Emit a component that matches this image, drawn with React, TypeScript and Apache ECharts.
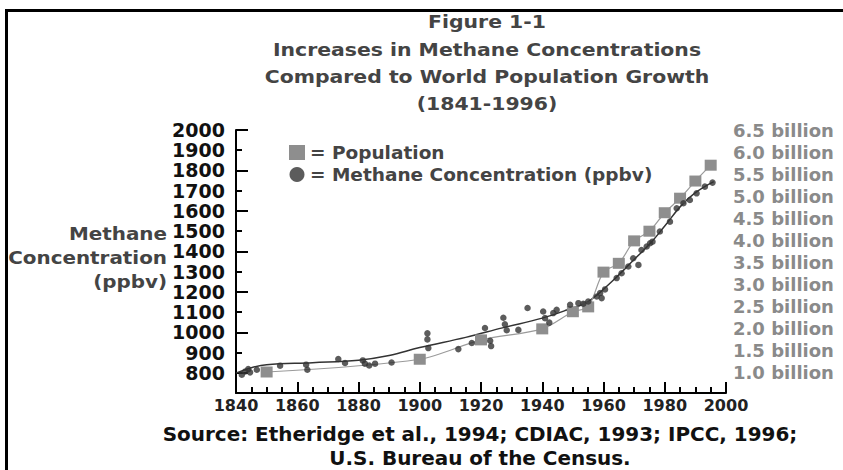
import React, { useEffect, useRef } from "react";
import * as echarts from "echarts";

const FONT = "'DejaVu Sans', sans-serif";

const titleLines = [
  "Figure 1-1",
  "Increases in Methane Concentrations",
  "Compared to World Population Growth",
  "(1841-1996)",
];
const sourceLines = [
  "Source: Etheridge et al., 1994; CDIAC, 1993; IPCC, 1996;",
  "U.S. Bureau of the Census.",
];
const yNameLines = ["Methane", "Concentration", "(ppbv)"];

const popName = "Population";
const methName = "Methane Concentration (ppbv)";

// Population (billions) – read from the gray squares
const popYears = [1850, 1900, 1920, 1940, 1950, 1955, 1960, 1965, 1970, 1975, 1980, 1985, 1990, 1995];
const popValues = [1.0, 1.29, 1.73, 1.98, 2.37, 2.48, 3.27, 3.47, 3.98, 4.2, 4.62, 4.95, 5.34, 5.7];

// Methane concentration measurements (year, ppbv)
const methYears = [
  1841.9, 1843, 1844, 1844.6, 1846.8, 1854.4, 1862.9, 1863.3, 1873.4, 1875.6,
  1881.4, 1882.1, 1883.5, 1885.4, 1890.8, 1902.5, 1902.5, 1902.8, 1912.6, 1917,
  1921.3, 1923, 1923.3, 1927.3, 1927.8, 1928.4, 1932.2, 1935.2, 1940.3, 1940.9,
  1942.3, 1943.6, 1944.7, 1949.1, 1951.8, 1953.4, 1955, 1957.8, 1958.9, 1959.4,
  1960.5, 1964.3, 1965.9, 1968.1, 1969.7, 1971.4, 1972.4, 1974.1, 1975.2, 1976,
  1978.4, 1981.7, 1983.9, 1986.1, 1988.2, 1990.4, 1993.1, 1995.6,
];
const methValues = [
  790, 806, 818, 802, 815, 835, 840, 815, 868, 848,
  861, 845, 836, 845, 851, 995, 965, 922, 917, 947,
  1021, 958, 932, 1072, 1040, 1010, 1012, 1120, 1103, 1070,
  1048, 1095, 1111, 1136, 1144, 1141, 1152, 1177, 1194, 1169,
  1212, 1268, 1292, 1325, 1366, 1333, 1407, 1424, 1440, 1448,
  1498, 1547, 1613, 1638, 1654, 1687, 1720, 1740,
];

// Fitted methane trend line
const trendYears = [1840, 1845, 1850, 1865, 1880, 1890, 1900, 1915, 1927, 1940, 1948, 1955, 1963, 1970, 1975, 1980, 1985, 1990, 1996];
const trendValues = [798, 825, 840, 850, 862, 885, 925, 975, 1022, 1070, 1110, 1152, 1255, 1360, 1435, 1525, 1620, 1690, 1745];

const xTickLabels = [1840, 1860, 1880, 1900, 1920, 1940, 1960, 1980, 2000];
const yLabelValues = [800, 900, 1000, 1100, 1200, 1300, 1400, 1500, 1600, 1700, 1800, 1900, 2000];
const yLongTicks = [800, 1000, 1200, 1400, 1600, 1800, 2000];
const yShortTicks = [900, 1100, 1300, 1500, 1700, 1900];

export default function App() {
  const ref = useRef<HTMLDivElement>(null);
  useEffect(() => {
    document.body.style.margin = "0";
    if (!ref.current) return;
    const chart = echarts.init(ref.current, undefined, { renderer: "svg" });

    const titleY = [22, 50, 77, 104];
    const graphics: any[] = [
      { type: "rect", shape: { x: 5, y: 9, width: 838, height: 3 }, style: { fill: "#000" } },
      { type: "rect", shape: { x: 5, y: 9, width: 3, height: 461 }, style: { fill: "#000" } },
    ];
    titleLines.forEach((t, i) => {
      graphics.push({
        type: "text",
        x: 487,
        y: titleY[i],
        scaleX: 1.2,
        style: {
          text: t,
          fontFamily: FONT,
          fontSize: 17,
          fontWeight: "bold",
          fill: "#444",
          align: "center",
          verticalAlign: "middle",
        },
      });
    });
    const nameY = [234, 258, 282];
    yNameLines.forEach((t, i) => {
      graphics.push({
        type: "text",
        x: 167,
        y: nameY[i],
        scaleX: 1.17,
        style: {
          text: t,
          fontFamily: FONT,
          fontSize: 17,
          fontWeight: "bold",
          fill: "#444",
          align: "right",
          verticalAlign: "middle",
        },
      });
    });
    const srcY = [435, 459];
    sourceLines.forEach((t, i) => {
      graphics.push({
        type: "text",
        x: 480,
        y: srcY[i],
        scaleX: 1.05,
        style: {
          text: t,
          fontFamily: FONT,
          fontSize: 19,
          fontWeight: "bold",
          fill: "#111",
          align: "center",
          verticalAlign: "middle",
        },
      });
    });

    const option: any = {
      animation: false,
      backgroundColor: "#fff",
      textStyle: { fontFamily: FONT },
      legend: {
        orient: "vertical",
        left: 289,
        top: 143,
        padding: 0,
        itemWidth: 16,
        itemHeight: 15,
        itemGap: 3,
        formatter: (n: string) => "= " + n,
        textStyle: { fontFamily: FONT, fontSize: 18.5, fontWeight: "bold", color: "#444" },
        data: [
          { name: popName, icon: "rect" },
          { name: methName, icon: "circle" },
        ],
      },
      grid: [
        { left: 236, top: 130, width: 490, height: 263 },
        { left: 236, top: 130, width: 490, height: 242 },
      ],
      xAxis: [
        {
          gridIndex: 0,
          type: "value",
          min: 1840,
          max: 2000,
          interval: 20,
          axisLine: { show: true, lineStyle: { color: "#000", width: 2 } },
          axisTick: { show: true, inside: true, length: 11, lineStyle: { color: "#000", width: 2 } },
          minorTick: { show: true, splitNumber: 4, length: 6, lineStyle: { color: "#000", width: 2 } },
          axisLabel: {
            margin: 4,
            fontFamily: FONT,
            fontSize: 16,
            fontWeight: "bold",
            color: "#222",
            customValues: xTickLabels,
            formatter: (v: number) => String(v),
          },
          splitLine: { show: false },
          minorSplitLine: { show: false },
        },
        { gridIndex: 1, type: "value", min: 1840, max: 2000, show: false },
      ],
      yAxis: [
        {
          gridIndex: 0,
          type: "value",
          min: 700,
          max: 2000,
          interval: 100,
          axisLine: { show: true, lineStyle: { color: "#000", width: 2 } },
          axisTick: { show: true, inside: true, length: 6, customValues: yShortTicks, lineStyle: { color: "#000", width: 2 } },
          axisLabel: {
            margin: 11,
            fontFamily: FONT,
            fontSize: 19,
            fontWeight: "bold",
            color: "#111",
            customValues: yLabelValues,
            formatter: (v: number) => String(v),
          },
          splitLine: { show: false },
        },
        {
          gridIndex: 0,
          type: "value",
          position: "left",
          min: 700,
          max: 2000,
          interval: 100,
          axisLine: { show: false },
          axisTick: { show: true, inside: true, length: 12, customValues: yLongTicks, lineStyle: { color: "#000", width: 2 } },
          axisLabel: { show: false },
          splitLine: { show: false },
        },
        {
          gridIndex: 1,
          type: "value",
          position: "right",
          min: 1.0,
          max: 6.5,
          interval: 0.5,
          axisLine: { show: false },
          axisTick: { show: false },
          axisLabel: {
            margin: 7,
            fontFamily: FONT,
            fontSize: 18,
            fontWeight: "bold",
            color: "#8a8a8a",
            formatter: (v: number) => v.toFixed(1) + " billion",
          },
          splitLine: { show: false },
        },
      ],
      series: [
        {
          name: popName,
          type: "line",
          xAxisIndex: 1,
          yAxisIndex: 2,
          data: popYears.map((y, i) => [y, popValues[i]]),
          smooth: 0.3,
          symbol: "rect",
          symbolSize: [12, 11],
          itemStyle: { color: "#8e8e8e" },
          lineStyle: { color: "#9a9a9a", width: 1.2 },
          clip: false,
          z: 3,
        },
        {
          name: "trend",
          type: "line",
          xAxisIndex: 0,
          yAxisIndex: 0,
          data: trendYears.map((y, i) => [y, trendValues[i]]),
          smooth: 0.4,
          showSymbol: false,
          lineStyle: { color: "#333", width: 1.5 },
          itemStyle: { color: "#333" },
          z: 2,
        },
        {
          name: methName,
          type: "scatter",
          xAxisIndex: 0,
          yAxisIndex: 0,
          data: methYears.map((y, i) => [y, methValues[i]]),
          symbol: "circle",
          symbolSize: 6.5,
          itemStyle: { color: "#333" },
          z: 4,
        },
      ],
      graphic: graphics,
    };
    chart.setOption(option);
    return () => chart.dispose();
  }, []);
  return <div ref={ref} style={{ width: 843, height: 470 }} />;
}
